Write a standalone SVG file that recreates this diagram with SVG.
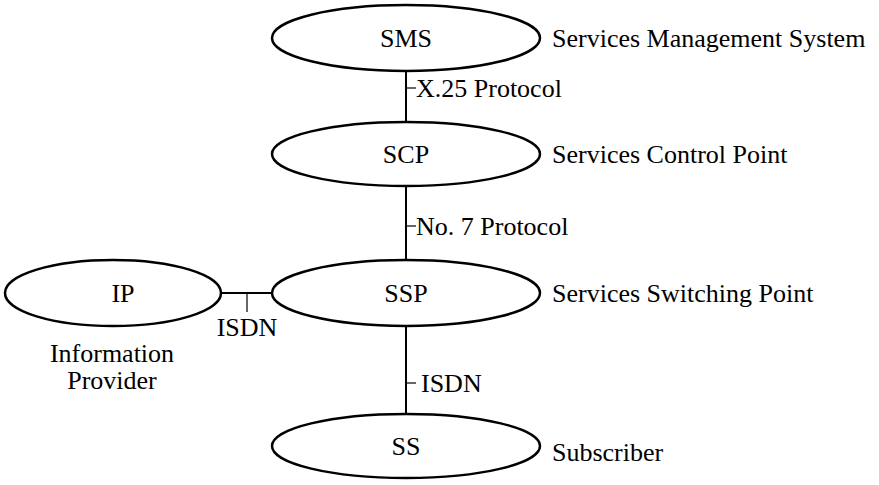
<svg xmlns="http://www.w3.org/2000/svg" width="879" height="485" viewBox="0 0 879 485">
<style>
.n{fill:none;stroke:#000;stroke-width:2.5}
.c{stroke:#000;stroke-width:2;fill:none}
.t{stroke:#000;stroke-width:1.2;fill:none}
text{fill:#000}
.m{text-anchor:middle}
</style>
<rect width="879" height="485" fill="#fff"/>
<g font-family="Liberation Serif, serif" font-size="26">
<g id="connectors">
<line class="c" x1="406" y1="70" x2="406" y2="122"/>
<line class="t" x1="406" y1="88" x2="416" y2="88"/>
<text x="416" y="97">X.25 Protocol</text>
<line class="c" x1="406" y1="186" x2="406" y2="260"/>
<line class="t" x1="406" y1="226" x2="416" y2="226"/>
<text x="416" y="235">No. 7 Protocol</text>
<line class="c" x1="221" y1="293" x2="272" y2="293"/>
<line class="t" x1="247" y1="293" x2="247" y2="312"/>
<text class="m" x="247" y="336">ISDN</text>
<line class="c" x1="406" y1="326" x2="406" y2="415"/>
<line class="t" x1="406" y1="383" x2="416" y2="383"/>
<text x="421" y="392">ISDN</text>
</g>
<g id="SMS">
<ellipse class="n" cx="406" cy="38" rx="134" ry="33"/>
<text class="m" x="406" y="47">SMS</text>
<text x="552" y="47">Services Management System</text>
</g>
<g id="SCP">
<ellipse class="n" cx="406" cy="154" rx="134" ry="32"/>
<text class="m" x="406" y="163">SCP</text>
<text x="552" y="163">Services Control Point</text>
</g>
<g id="SSP">
<ellipse class="n" cx="406" cy="293" rx="134" ry="33"/>
<text class="m" x="406" y="302">SSP</text>
<text x="552" y="302">Services Switching Point</text>
</g>
<g id="IP">
<ellipse class="n" cx="113" cy="293" rx="108" ry="33"/>
<text class="m" x="123" y="302">IP</text>
<text class="m" x="112" y="362">Information</text>
<text class="m" x="112" y="389">Provider</text>
</g>
<g id="SS">
<ellipse class="n" cx="406" cy="446" rx="134" ry="32"/>
<text class="m" x="406" y="455">SS</text>
<text x="552" y="461">Subscriber</text>
</g>
</g>
</svg>
